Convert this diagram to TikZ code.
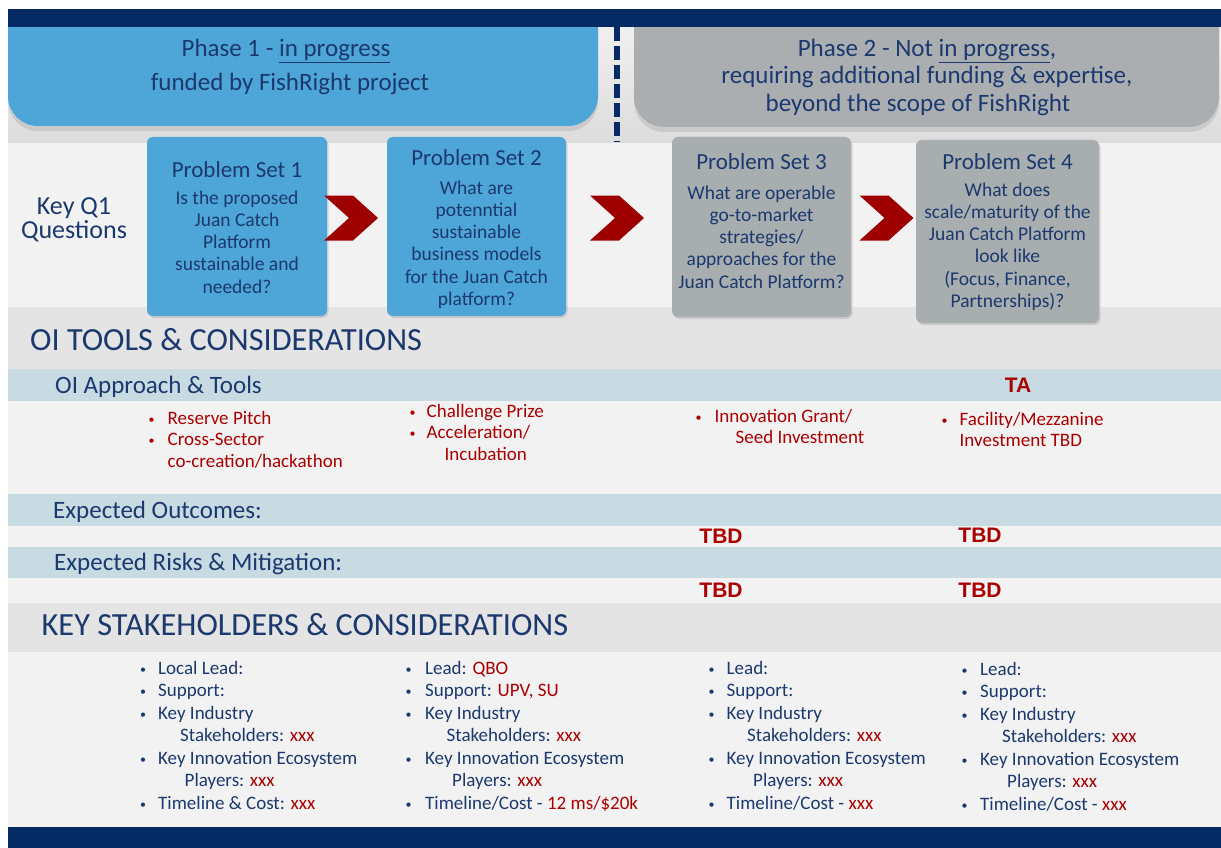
\documentclass[tikz,border=0pt]{standalone}
\usepackage{fontspec}
\setmainfont{Carlito}
\newfontfamily\heavysans{Liberation Sans}
\usetikzlibrary{shapes.symbols,shadows}

\definecolor{navy}{RGB}{6,42,100}
\definecolor{txt}{RGB}{27,57,110}
\definecolor{phaseblue}{RGB}{78,165,216}
\definecolor{phasegrey}{RGB}{170,174,176}
\definecolor{psgrey}{RGB}{168,173,175}
\definecolor{bandblue}{RGB}{200,218,226}
\definecolor{bandgrey}{RGB}{228,228,228}
\definecolor{rowgrey}{RGB}{242,242,242}
\definecolor{bandtop}{RGB}{240,240,240}
\definecolor{bandbot}{RGB}{220,220,220}
\definecolor{xred}{RGB}{170,0,0}
\definecolor{chev}{RGB}{158,0,0}

% first-line strut so that a node's top sits 0.9em above its first baseline
\newcommand{\topstrut}{\rule{0pt}{0.9em}}
% bullet in a box of the given width (distance from dot to text)
\newcommand{\bul}[1]{\makebox[#1pt][l]{\raisebox{1pt}{\fontsize{12}{12}\selectfont\textbullet}}}
\newcommand{\rd}[1]{\textcolor{xred}{#1}}

\tikzset{
  phasetext/.style={font=\fontsize{25}{27}\selectfont, text=txt, inner sep=0pt, anchor=base},
  psbox/.style={rounded corners=6pt, inner sep=0pt,
    drop shadow={opacity=0.25, shadow xshift=1.5pt, shadow yshift=-2pt}},
  pstitle/.style={font=\fontsize{23}{25}\selectfont, text=txt, inner sep=0pt, anchor=base},
  psbody/.style={font=\fontsize{19.5}{22.2}\selectfont, text=txt, inner sep=0pt, anchor=north, align=center},
  chevron/.style={shape=signal, signal from=west, signal to=east, signal pointer angle=84,
    fill=chev, inner sep=0pt, minimum width=54pt, minimum height=45pt},
  bighead/.style={font=\fontsize{32.3}{34}\selectfont, text=txt, inner sep=0pt, anchor=base west},
  subhead/.style={font=\fontsize{25}{27}\selectfont, text=txt, inner sep=0pt, anchor=base west},
  redlist/.style={font=\fontsize{19}{21.7}\selectfont, text=xred, inner sep=0pt, anchor=north west, align=left},
  sklist/.style={font=\fontsize{19}{22.5}\selectfont, text=txt, inner sep=0pt, anchor=north west, align=left},
  tbd/.style={font=\heavysans\bfseries\fontsize{21}{23}\selectfont, text=xred, inner sep=0pt, anchor=base},
  banner shadow/.style={drop shadow={opacity=0.22, shadow xshift=0pt, shadow yshift=-5pt}},
}

\begin{document}
\begin{tikzpicture}[x=1pt,y=-1pt]
\useasboundingbox (0,0) rectangle (1221,848);
\fill[white] (0,0) rectangle (1221,848);

% ---- horizontal bands ----
\shade[top color=bandtop, bottom color=bandbot] (8,27) rectangle (1221,143);
\fill[rowgrey]  (8,143) rectangle (1221,307);
\fill[bandgrey] (8,307) rectangle (1221,369);
\fill[bandblue] (8,369) rectangle (1221,401);
\fill[rowgrey]  (8,401) rectangle (1221,494);
\fill[bandblue] (8,494) rectangle (1221,526);
\fill[rowgrey]  (8,526) rectangle (1221,547);
\fill[bandblue] (8,547) rectangle (1221,578);
\fill[rowgrey]  (8,578) rectangle (1221,603);
\fill[bandgrey] (8,603) rectangle (1221,652);
\fill[rowgrey]  (8,652) rectangle (1221,827);

% ---- phase banners (bottom corners rounded) ----
\fill[phaseblue, banner shadow] (8,20) -- (598,20) -- (598,96)
  arc[start angle=0, end angle=-90, radius=30pt] -- (38,126)
  arc[start angle=-90, end angle=-180, radius=30pt] -- cycle;
\fill[phasegrey, banner shadow] (634,20) -- (1219,20) -- (1219,97)
  arc[start angle=0, end angle=-90, radius=30pt] -- (664,127)
  arc[start angle=-90, end angle=-180, radius=30pt] -- cycle;

% ---- top and bottom navy bars ----
\fill[navy] (8,9) rectangle (1221,27);
\fill[navy] (8,827) rectangle (1221,848);

% phase divider
\draw[navy, line width=6pt, dash pattern=on 14pt off 5pt] (617,27) -- (617,142);

% ---- phase texts ----
\node[phasetext] (ph1a) at (286,57) {Phase 1 - \underline{in progress}};
\node[phasetext] (ph1b) at (290,91) {funded by FishRight project};
\node[phasetext] (ph2a) at (927,57) {Phase 2 - Not \underline{in progress},};
\node[phasetext] (ph2b) at (927,84) {requiring additional funding \& expertise,};
\node[phasetext] (ph2c) at (918,112) {beyond the scope of FishRight};

% ---- key questions ----
\node[font=\fontsize{26}{24}\selectfont, text=txt, inner sep=0pt, anchor=north, align=center]
  (keyq) at (74,190.6) {\topstrut Key Q1\\Questions};

\node[psbox, fill=phaseblue, minimum width=180pt, minimum height=179pt] (ps1) at (237,226.5) {};
\node[psbox, fill=phaseblue, minimum width=179pt, minimum height=179pt] (ps2) at (476.5,226.5) {};
\node[psbox, fill=psgrey, minimum width=179pt, minimum height=180pt] (ps3) at (761.5,227) {};
\node[psbox, fill=psgrey, minimum width=183pt, minimum height=183pt] (ps4) at (1007.5,231.5) {};

\node[chevron] (ch1) at (351,218) {};
\node[chevron] (ch2) at (617,218) {};
\node[chevron] (ch3) at (886.5,218) {};

\node[pstitle] (ps1t) at (237,177) {Problem Set 1};
\node[psbody] (ps1b) at (237,186.5) {\topstrut Is the proposed\\Juan Catch\\Platform\\sustainable and\\needed?};
\node[pstitle] (ps2t) at (476.5,166) {Problem Set 2};
\node[psbody] (ps2b) at (476.5,176.5) {\topstrut What are\\potenntial\\sustainable\\business models\\for the Juan Catch\\platform?};
\node[pstitle] (ps3t) at (761.5,169) {Problem Set 3};
\node[psbody] (ps3b) at (761.5,181.5) {\topstrut What are operable\\go-to-market\\strategies/\\approaches for the\\Juan Catch Platform?};
\node[pstitle] (ps4t) at (1007.5,169) {Problem Set 4};
\node[psbody] (ps4b) at (1007.5,178.5) {\topstrut What does\\scale/maturity of the\\Juan Catch Platform\\look like\\(Focus, Finance,\\Partnerships)?};

% ---- OI tools ----
\node[bighead] (oihead) at (30,350) {OI TOOLS \& CONSIDERATIONS};
\node[subhead] (oiappr) at (55,393) {OI Approach \& Tools};
\node[tbd] (ta) at (1018,392) {TA};

\node[redlist] (oi1) at (148.5,406.9) {\topstrut\bul{19}Reserve Pitch\\\bul{19}Cross-Sector\\\hspace*{19pt}co-creation/hackathon};
\node[redlist] (oi2) at (409.5,399.9) {\topstrut\bul{17}Challenge Prize\\\bul{17}Acceleration/\\\hspace*{35pt}Incubation};
\node[redlist] (oi3) at (695.5,404.9) {\topstrut\bul{19}Innovation Grant/\\\hspace*{40pt}Seed Investment};
\node[redlist] (oi4) at (941.5,407.9) {\topstrut\bul{18}Facility/Mezzanine\\\hspace*{18pt}Investment TBD};

\node[subhead] (outc) at (53,518) {Expected Outcomes:};
\node[tbd] (tbd1) at (721,543) {TBD};
\node[tbd] (tbd2) at (980,542) {TBD};
\node[subhead] (risk) at (54,570) {Expected Risks \& Mitigation:};
\node[tbd] (tbd3) at (721,597) {TBD};
\node[tbd] (tbd4) at (980,597) {TBD};

% ---- stakeholders ----
\node[bighead] (skhead) at (41.5,635) {KEY STAKEHOLDERS \& CONSIDERATIONS};

\node[sklist] (sk1) at (140,656.9) {\topstrut\bul{18}Local Lead:\\
  \bul{18}Support:\\
  \bul{18}Key Industry\\
  \hspace*{40pt}Stakeholders: \rd{xxx}\\
  \bul{18}Key Innovation Ecosystem\\
  \hspace*{44.5pt}Players: \rd{xxx}\\
  \bul{18}Timeline \& Cost: \rd{xxx}};
\node[sklist] (sk2) at (405.5,656.9) {\topstrut\bul{19.5}Lead: \rd{QBO}\\
  \bul{19.5}Support: \rd{UPV, SU}\\
  \bul{19.5}Key Industry\\
  \hspace*{41pt}Stakeholders: \rd{xxx}\\
  \bul{19.5}Key Innovation Ecosystem\\
  \hspace*{46.5pt}Players: \rd{xxx}\\
  \bul{19.5}Timeline/Cost - \rd{12 ms/\$20k}};
\node[sklist] (sk3) at (708.5,656.9) {\topstrut\bul{18}Lead:\\
  \bul{18}Support:\\
  \bul{18}Key Industry\\
  \hspace*{38.5pt}Stakeholders: \rd{xxx}\\
  \bul{18}Key Innovation Ecosystem\\
  \hspace*{44.5pt}Players: \rd{xxx}\\
  \bul{18}Timeline/Cost - \rd{xxx}};
\node[sklist] (sk4) at (961.5,657.9) {\topstrut\bul{18.5}Lead:\\
  \bul{18.5}Support:\\
  \bul{18.5}Key Industry\\
  \hspace*{40.5pt}Stakeholders: \rd{xxx}\\
  \bul{18.5}Key Innovation Ecosystem\\
  \hspace*{45.5pt}Players: \rd{xxx}\\
  \bul{18.5}Timeline/Cost - \rd{xxx}};
\end{tikzpicture}
\end{document}
